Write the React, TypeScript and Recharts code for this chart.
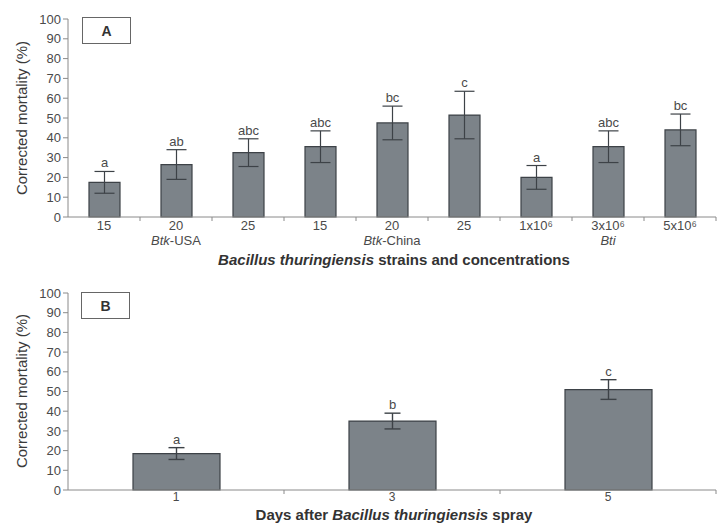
import React from "react";
import { Bar, BarChart, ErrorBar, LabelList, XAxis, YAxis } from "recharts";

// Panel A: strains and concentrations
const strainDoses = ["15", "20", "25", "15", "20", "25", "1x10⁶", "3x10⁶", "5x10⁶"];
const strainGroups = ["", "Btk-USA", "", "", "Btk-China", "", "", "Bti", ""];
const strainMortality = [17.5, 26.5, 32.5, 35.5, 47.5, 51.5, 20, 35.5, 44];
const strainError = [5.5, 7.5, 7, 8, 8.5, 12, 6, 8, 8];
const strainLetters = ["a", "ab", "abc", "abc", "bc", "c", "a", "abc", "bc"];

// Panel B: days after spray
const days = ["1", "3", "5"];
const dayMortality = [18.5, 35, 51];
const dayError = [3, 4, 5];
const dayLetters = ["a", "b", "c"];

const yTicks = [0, 10, 20, 30, 40, 50, 60, 70, 80, 90, 100];

const W = 718;
const LEFT = 68;
const RIGHT = 2;
const FONT = "'Liberation Sans', Arial, sans-serif";
const BAR_FILL = "#7c8389";
const BAR_STROKE = "#3d4247";
const AXIS = "#8a8a8a";
const TEXT = "#4a4a4a";

const strainData = strainDoses.map((dose, i) => ({
  dose,
  value: strainMortality[i],
  err: strainError[i],
}));

const dayData = days.map((day, i) => ({
  day,
  value: dayMortality[i],
  err: dayError[i],
}));

function GroupLabel({ text, x, y }: { text: string; x: number; y: number }) {
  if (!text) return null;
  if (text.startsWith("Btk")) {
    return (
      <text x={x} y={y} textAnchor="middle" fontSize={13} fill={TEXT} fontFamily={FONT}>
        <tspan fontStyle="italic">Btk</tspan>
        <tspan>{text.slice(3)}</tspan>
      </text>
    );
  }
  return (
    <text x={x} y={y} textAnchor="middle" fontSize={13} fill={TEXT} fontFamily={FONT} fontStyle="italic">
      {text}
    </text>
  );
}

function makeTick(band: number, groups?: string[], size = 13, dy = 6) {
  return (props: any) => {
    const { x, y, payload, index } = props;
    return (
      <g>
        <line x1={x + band / 2} x2={x + band / 2} y1={y - 8} y2={y - 4} stroke={AXIS} />
        <text x={x} y={y + dy} textAnchor="middle" fontSize={size} fill={TEXT} fontFamily={FONT}>
          {payload.value}
        </text>
        {groups ? <GroupLabel text={groups[index]} x={x} y={y + dy + 15} /> : null}
      </g>
    );
  };
}

function letterLabel(errs: number[], letters: string[]) {
  return (props: any) => {
    const { x, y, width, height, value, index } = props;
    const top = y - (errs[index] * height) / value;
    return (
      <text x={x + width / 2} y={top - 4} textAnchor="middle" fontSize={13} fill={TEXT} fontFamily={FONT}>
        {letters[index]}
      </text>
    );
  };
}

function yLabel(cy: number) {
  return () => (
    <text
      x={21}
      y={cy}
      transform={`rotate(-90, 21, ${cy})`}
      textAnchor="middle"
      dominantBaseline="central"
      fontSize={15}
      fill="#3a3a3a"
      fontFamily={FONT}
    >
      Corrected mortality (%)
    </text>
  );
}

function Panel({ letter, top, left }: { letter: string; top: number; left: number }) {
  return (
    <div
      style={{
        position: "absolute",
        top,
        left,
        width: 49,
        height: 27,
        border: "1px solid #666",
        background: "#fff",
        fontFamily: FONT,
        fontWeight: "bold",
        fontSize: 14,
        color: "#333",
        display: "flex",
        alignItems: "center",
        justifyContent: "center",
        boxSizing: "border-box",
      }}
    >
      {letter}
    </div>
  );
}

const titleStyle: React.CSSProperties = {
  position: "absolute",
  left: 0,
  width: W,
  textAlign: "center",
  paddingLeft: 70,
  boxSizing: "border-box",
  fontSize: 15,
  lineHeight: "17px",
  fontWeight: "bold",
  color: "#333",
};

export default function App() {
  const bandA = (W - LEFT - RIGHT) / strainData.length;
  const bandB = (W - LEFT - RIGHT) / dayData.length;

  return (
    <div style={{ position: "absolute", left: 0, top: 0, width: W, height: 523, background: "#fff", fontFamily: FONT }}>
      <div style={{ position: "absolute", left: 0, top: 0 }}>
        <BarChart width={W} height={270} data={strainData} margin={{ top: 19, right: RIGHT, left: 0, bottom: 0 }}>
          <XAxis
            dataKey="dose"
            height={53}
            interval={0}
            tickLine={false}
            stroke={AXIS}
            tick={makeTick(bandA, strainGroups, 13, 5)}
          />
          <YAxis
            width={LEFT}
            domain={[0, 100]}
            ticks={yTicks}
            interval={0}
            stroke={AXIS}
            tickSize={5}
            tick={{ fontSize: 13, fill: TEXT, fontFamily: FONT }}
            label={{ content: yLabel(118) }}
          />
          <Bar dataKey="value" fill={BAR_FILL} stroke={BAR_STROKE} strokeWidth={1.2} barSize={31} isAnimationActive={false}>
            <ErrorBar dataKey="err" width={10} stroke={BAR_STROKE} strokeWidth={1.2} direction="y" isAnimationActive={false} />
            <LabelList dataKey="value" content={letterLabel(strainError, strainLetters)} />
          </Bar>
        </BarChart>
        <div style={{ ...titleStyle, top: 251 }}>
          <i>Bacillus thuringiensis</i> strains and concentrations
        </div>
      </div>
      <Panel letter="A" top={17} left={82} />

      <div style={{ position: "absolute", left: 0, top: 274 }}>
        <BarChart width={W} height={249} data={dayData} margin={{ top: 19, right: RIGHT, left: 0, bottom: 0 }}>
          <XAxis
            dataKey="day"
            height={33}
            interval={0}
            tickLine={false}
            stroke={AXIS}
            tick={makeTick(bandB, undefined, 12, 3)}
          />
          <YAxis
            width={LEFT}
            domain={[0, 100]}
            ticks={yTicks}
            interval={0}
            stroke={AXIS}
            tickSize={5}
            tick={{ fontSize: 13, fill: TEXT, fontFamily: FONT }}
            label={{ content: yLabel(117) }}
          />
          <Bar dataKey="value" fill={BAR_FILL} stroke={BAR_STROKE} strokeWidth={1.2} barSize={87} isAnimationActive={false}>
            <ErrorBar dataKey="err" width={8} stroke={BAR_STROKE} strokeWidth={1.4} direction="y" isAnimationActive={false} />
            <LabelList dataKey="value" content={letterLabel(dayError, dayLetters)} />
          </Bar>
        </BarChart>
        <div style={{ ...titleStyle, top: 232 }}>
          Days after <i>Bacillus thuringiensis</i> spray
        </div>
      </div>
      <Panel letter="B" top={292} left={81} />
    </div>
  );
}
